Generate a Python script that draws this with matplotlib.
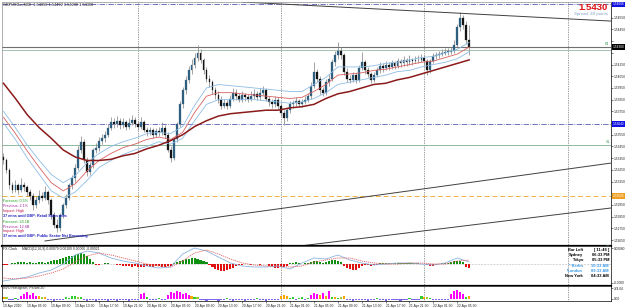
import numpy as np
import matplotlib
matplotlib.use("Agg")
import matplotlib.pyplot as plt
import matplotlib.transforms as mtransforms

W, H = 625, 308
plt.rcParams["font.family"] = ["Liberation Sans", "DejaVu Sans"]

# ── Data: GBPUSD M30 bars, prices in pips above 1.5000 ────────────────────
opens = [336, 333, 325, 312, 308, 312, 308, 312, 310, 306,
         303, 295, 299, 303, 301, 306, 299, 286, 278, 275,
         286, 295, 301, 312, 318, 327, 342, 349, 333, 323,
         329, 342, 344, 350, 352, 355, 361, 366, 364, 367,
         363, 366, 362, 365, 368, 364, 362, 366, 359, 357,
         359, 355, 358, 357, 361, 355, 342, 335, 351, 364,
         381, 393, 402, 410, 415, 421, 425, 419, 410, 403,
         400, 393, 389, 385, 380, 382, 380, 386, 391, 388,
         385, 389, 387, 386, 388, 390, 387, 391, 393, 386,
         383, 381, 385, 380, 374, 369, 376, 381, 382, 384,
         381, 383, 385, 388, 397, 409, 403, 393, 391, 400,
         403, 417, 423, 427, 423, 409, 403, 402, 406, 402,
         412, 417, 410, 407, 402, 406, 410, 414, 412, 415,
         413, 416, 414, 418, 416, 419, 417, 419, 418, 419,
         419, 421, 418, 410, 418, 422, 423, 424, 425, 426,
         426, 427, 432, 447, 455, 449, 436]
highs = [339, 335, 327, 315, 316, 314, 318, 315, 312, 309,
         305, 303, 308, 306, 311, 308, 301, 289, 283, 288,
         297, 304, 314, 321, 330, 345, 354, 351, 336, 332,
         344, 348, 353, 356, 358, 364, 370, 369, 371, 369,
         369, 368, 369, 372, 370, 367, 370, 368, 362, 362,
         361, 361, 362, 366, 363, 357, 345, 353, 366, 384,
         396, 405, 414, 420, 425, 432, 428, 421, 413, 406,
         402, 396, 392, 388, 386, 385, 389, 395, 394, 391,
         392, 391, 390, 392, 394, 392, 395, 397, 395, 388,
         386, 388, 387, 382, 376, 378, 384, 385, 387, 386,
         386, 388, 391, 400, 417, 411, 405, 396, 403, 407,
         420, 427, 434, 430, 425, 412, 406, 409, 408, 415,
         426, 419, 413, 409, 409, 413, 417, 416, 418, 417,
         419, 418, 421, 420, 422, 421, 423, 421, 422, 423,
         424, 423, 420, 420, 425, 426, 427, 428, 429, 429,
         430, 436, 450, 460, 457, 452, 449]
lows = [330, 322, 309, 305, 306, 304, 306, 307, 303, 299,
        291, 292, 297, 298, 299, 296, 283, 275, 272, 273,
        284, 292, 299, 309, 315, 325, 339, 331, 320, 321,
        327, 339, 341, 347, 349, 353, 359, 361, 362, 360,
        361, 359, 360, 363, 362, 359, 360, 357, 354, 355,
        352, 353, 354, 355, 352, 340, 332, 333, 349, 362,
        378, 390, 399, 407, 412, 418, 416, 407, 400, 396,
        390, 386, 382, 377, 378, 377, 378, 384, 385, 383,
        383, 384, 383, 384, 386, 385, 385, 389, 384, 380,
        378, 379, 377, 371, 363, 367, 374, 378, 380, 379,
        379, 381, 383, 386, 395, 400, 390, 388, 389, 397,
        401, 414, 420, 420, 406, 400, 399, 400, 399, 400,
        410, 407, 404, 399, 400, 404, 408, 409, 410, 410,
        411, 411, 412, 413, 414, 414, 415, 415, 416, 416,
        417, 415, 406, 408, 416, 420, 421, 422, 423, 423,
        424, 425, 430, 444, 445, 433, 423]
closes = [333, 325, 312, 308, 312, 308, 312, 310, 306, 303,
          295, 299, 303, 301, 306, 299, 286, 278, 275, 286,
          295, 301, 312, 318, 327, 342, 349, 333, 323, 329,
          342, 344, 350, 352, 355, 361, 366, 364, 367, 363,
          366, 362, 365, 368, 364, 362, 366, 359, 357, 359,
          355, 358, 357, 361, 355, 342, 335, 351, 364, 381,
          393, 402, 410, 415, 421, 425, 419, 410, 403, 400,
          393, 389, 385, 380, 382, 380, 386, 391, 388, 385,
          389, 387, 386, 388, 390, 387, 391, 393, 386, 383,
          381, 385, 380, 374, 369, 376, 381, 382, 384, 381,
          383, 385, 388, 397, 409, 403, 393, 391, 400, 403,
          417, 423, 427, 423, 409, 403, 402, 406, 402, 412,
          417, 410, 407, 402, 406, 410, 414, 412, 415, 413,
          416, 414, 418, 416, 419, 417, 419, 418, 419, 419,
          421, 418, 410, 418, 422, 423, 424, 425, 426, 426,
          427, 432, 447, 455, 449, 436, 430]

# moving averages read every 4th bar
ma_idx = list(range(0, 157, 4))
ma_slow = [399, 386, 372, 361, 352, 342, 336, 333, 333, 334,
           337, 339, 343, 346, 350, 355, 362, 367, 371, 373,
           374, 375, 376, 376, 378, 379, 381, 386, 390, 392,
           395, 398, 399, 402, 404, 407, 410, 413, 416, 419]
ma_up = [375, 361, 346, 333, 321, 314, 320, 331, 339, 345,
         349, 352, 356, 357, 356, 362, 380, 395, 398, 397,
         396, 395, 394, 393, 392, 392, 398, 404, 413, 413,
         413, 414, 416, 417, 419, 421, 422, 425, 428, 434]
ma_mid = [370, 356, 341, 327, 314, 307, 313, 324, 333, 339,
          344, 347, 351, 353, 351, 357, 374, 388, 391, 391,
          390, 389, 388, 387, 386, 387, 392, 398, 406, 407,
          408, 410, 411, 413, 415, 417, 418, 421, 424, 430]
ma_lo = [365, 351, 335, 321, 307, 301, 306, 316, 327, 333,
         338, 342, 345, 349, 347, 352, 367, 381, 385, 385,
         385, 385, 384, 383, 382, 383, 386, 391, 398, 400,
         402, 404, 406, 409, 410, 413, 415, 417, 420, 426]

# MACD (units of 0.00001)
macd_main = [-85, -75, -65, -45, -30, 0, 45, 65, 55, 30,
             15, 5, -10, -20, -15, 50, 80, 65, 35, 5,
             -10, -15, -15, -10, -25, 5, 30, 25, 45, 20,
             5, -5, 0, 5, 5, 0, -5, 5, 30, 10]
macd_signal = [-70, -75, -70, -60, -45, -25, 10, 40, 55, 45,
               30, 15, 0, -10, -15, 15, 55, 70, 50, 25,
               5, -5, -10, -10, -15, -10, 10, 20, 30, 30,
               15, 5, 0, 0, 5, 5, 0, 0, 15, 20]
macd_hist = [-5, -5, 0, 5,
             5, 10, 10, 10, 5, 10,
             5, 5, 10, 10, 5, 10,
             15, 20, 20, 25, 30, 35, 40, 40, 45, 50, 55, 50, 40,
             25, 10, -5,
             -5, 0, 5, 5, 0, 0, -5,
             -5, -10, -10, -10, -15, -10, -15, -15, -15, -10, -15, -15, -10, -10, -15, -15, -10, -10,
             5, 10, 15, 20, 25, 25, 30, 30, 25, 20, 15, 10,
             -5, -15, -25, -30, -35, -35, -30, -25, -20, -10,
             -5, -5, 0, 0, -5, 0, 0, -5, 0, 0,
             -10, -15, -20, -20, -15, -15, -10,
             5, 5, 10, 5, 0, 5, 5, 10,
             15, 15, 10, 5, 10,
             15, 20, 20, 15, 10,
             -10, -20, -25, -30, -30, -20, -10,
             -5, -5, -10, -5, -5,
             5, 5, 5, 5, 5, 5, 5, 5, 5, 5, 5, 5, 5, 5, 0, 0, -5,
             -10, -10, -5,
             0, 5, 5, 5, 10,
             15, 15, 15, 10,
             -15, -20]

# NVO histogram
nvo = [2, 2, -1, -1, 1, -1, 3, 5, 7, 4, 6, 3, 3, 2, 2,
       -1, -1, -2, -1, -1, -1, 2, 1, 3, 3, 2, 2,
       -1, -2, -1, -1, -2, -1, -1, -1, -2, -1, -1, -2, -1, -1, -1, -2, -1, -1, -1,
       5, 6, 2, -1, -1, -1, 1, -1, -1,
       4, 7, 6, 8, 7, 5, 6, 4, 3, 2, 2,
       -1, -1, -2, -1, -1, -1, -2, -1, -1, 1, -1, -2, -1, -1, -1, -2, -1, -1, -1, 1,
       -1, -1, -2, -1, -1, -1, -1,
       3, 4, 3, 1, 2, -1, 1, 2, -1, 1,
       4, 6, 5, 4, 6, 3, 8, 2, 2, 1, 2, 3,
       -1, -1, -2, -1, -1, -1, -1, -2, -1, -1, 1, -1, -1, -2, -1, -1, -1, -1, -2, -1, -1, 1, -1, -1, -1,
       3, 2, 2, 1, -1, -1, -1, -1, -1, -1,
       5, 8, 9, 7, 5, 2, 3]
nvo_kind = ("oys" "sgs" "mmmmmm" "oyo" "ssssss" "gg" "ggyg"
            "sssssssssssssssssss" "mmg" "sssgss" "mmmmmmmm" "ogy"
            "sssssssssgsssssssssgsssssss" "ooo" "ggsggsg" "mmmomo" "m"
            "gogyo" "ssssssssssgssssssssssgsss" "goyg" "ssssss" "mmmmm" "go")

time_idx = list(range(0, 153, 8))
time_labels = ["19 Apr 2010", "19 Apr 05:30", "19 Apr 09:30", "19 Apr 13:30",
               "19 Apr 17:30", "19 Apr 21:30", "20 Apr 01:30", "20 Apr 05:30",
               "20 Apr 09:30", "20 Apr 13:30", "20 Apr 17:30", "20 Apr 21:30",
               "21 Apr 01:30", "21 Apr 05:30", "21 Apr 09:30", "21 Apr 13:30",
               "21 Apr 17:30", "21 Apr 21:30", "22 Apr 01:30", "22 Apr 05:30"]
day_breaks = [45, 93, 141, 189]

price_ticks = [265 + 10 * k for k in range(21)]
hlevels = {"top": 466.6, "bid": 430.0, "r1": 427.5, "mid": 364.2, "s1": 346.2, "orange": 302.6}

# trend lines: (bar index, pips)
trend_down = ([80, 203.5], [468.5, 452.2])
trend_up1 = ([13.9, 203.5], [264.2, 330.8])
trend_up2 = ([99.3, 203.5], [259.9, 292.4])

assert len(opens) == len(highs) == len(lows) == len(closes) == 157
assert len(macd_hist) == 157 and len(nvo) == 157 and len(nvo_kind) == 157


def p(v):
    return 1.5 + np.asarray(v, dtype=float) / 1e4


# ── Figure ────────────────────────────────────────────────────────────────
fig = plt.figure(figsize=(W / 100, H / 100), dpi=100)
fig.patch.set_facecolor("white")


def box(top, bottom, left=2, right=611):
    return [left / W, 1 - bottom / H, (right - left) / W, (bottom - top) / H]


def ftxt(x, y, s, **kw):
    fig.text(x / W, 1 - y / H, s, **kw)


ax = fig.add_axes(box(2, 246))
ax_m = fig.add_axes(box(246, 286), sharex=ax)
ax_v = fig.add_axes(box(286, 301), sharex=ax)

XL = (-0.5, 203.5)
idx = np.arange(157)
LAB = 2.3

for a in (ax, ax_m, ax_v):
    a.set_facecolor("white")
    for s in a.spines.values():
        s.set_color("#000000")
        s.set_linewidth(0.5)
    a.yaxis.tick_right()
    a.tick_params(axis="y", length=1.5, width=0.4, pad=0.6, labelsize=LAB,
                  colors="#222222")
    for d in day_breaks:
        a.axvline(d, color="#404040", lw=0.5, ls=(0, (1, 1.5)), zorder=1)
ax.spines["top"].set_color("#909090")
ax.spines["left"].set_color("#909090")
ax.spines["bottom"].set_linewidth(1.6)
ax_m.spines["bottom"].set_linewidth(1.6)
ax.tick_params(axis="x", bottom=False, labelbottom=False)
ax_m.tick_params(axis="x", bottom=False, labelbottom=False)

# ── Main panel ────────────────────────────────────────────────────────────
o, h, l, c = p(opens), p(highs), p(lows), p(closes)
up = c >= o
ax.vlines(idx, l, h, color="#8a8a8a", lw=0.55, zorder=2)
body = np.maximum(np.abs(c - o), 0.00002)
ax.bar(idx[up], body[up], bottom=np.minimum(o, c)[up], width=0.62,
       color="#2f5f7f", edgecolor="#2f5f7f", lw=0.2, zorder=3)
ax.bar(idx[~up], body[~up], bottom=np.minimum(o, c)[~up], width=0.62,
       color="#151515", edgecolor="#151515", lw=0.2, zorder=3)

ax.plot(ma_idx, p(ma_up), color="#8dbde6", lw=0.6, zorder=4)
ax.plot(ma_idx, p(ma_mid), color="#d86060", lw=0.6, zorder=4)
ax.plot(ma_idx, p(ma_lo), color="#8dbde6", lw=0.6, zorder=4)
ax.plot(ma_idx, p(ma_slow), color="#8b1a1a", lw=1.1, zorder=4)

ax.axhline(p(hlevels["top"]), color="#5a5ab0", lw=0.6, ls="-.", zorder=1)
ax.axhline(p(hlevels["mid"]), color="#5a5ab0", lw=0.6, ls="-.", zorder=1)
ax.axhline(p(hlevels["bid"]), color="#707070", lw=0.8, zorder=1)
ax.axhline(p(hlevels["r1"]), color="#9ab8a4", lw=0.6, zorder=1)
ax.axhline(p(hlevels["s1"]), color="#7cb08c", lw=0.6, zorder=1)
ax.axhline(p(hlevels["orange"]), color="#f0b040", lw=0.7, ls=(0, (5, 3)), zorder=1)

for xs, ys in (trend_down, trend_up1, trend_up2):
    ax.plot(xs, p(ys), color="#404040", lw=0.7, zorder=2)

ax.set_xlim(*XL)
ax.set_ylim(p(259.9), p(468.5))

# price scale: labels hidden where a coloured level box sits on top
boxed = [hlevels["top"], hlevels["bid"], hlevels["mid"], hlevels["orange"]]
ax.set_yticks(p(price_ticks))
ax.set_yticklabels([("" if min(abs(t - b) for b in boxed) < 7 else f"{v:.5f}")
                    for t, v in zip(price_ticks, p(price_ticks))])

tr = mtransforms.blended_transform_factory(ax.transAxes, ax.transData)
for lvl, fc in ((hlevels["top"], "#1010e0"), (hlevels["bid"], "#000000"),
                (hlevels["mid"], "#1010e0"), (hlevels["orange"], "#f0a020")):
    ax.text(1.0035, p(lvl), f"{p(lvl):.5f}", transform=tr, fontsize=LAB,
            color="white", ha="left", va="center", clip_on=False, zorder=6,
            bbox=dict(fc=fc, ec="none", pad=0.5))
for lvl, name in ((hlevels["bid"], "R1"), (hlevels["s1"], "S1"), (257.0, "S2")):
    ax.text(0.998, p(lvl) + 0.00005, name, transform=tr, fontsize=2.6,
            color="#3a9a5a", ha="right", va="bottom")

ftxt(3, 3, "GBPUSDm,M30  1.54358 1.54492 1.54230 1.54300", fontsize=2.8,
     color="#202020", va="top")
ftxt(608, 7, "1.5430", fontsize=6.8, color="#e01010", fontweight="bold",
     ha="right", va="center")
ftxt(608, 14, "Spread: 40 points", fontsize=3.2, color="#8aa4c4",
     ha="right", va="center")

news = [("Forecast: 0.5%", "#20a020"), ("Previous: 2.1%", "#a020a0"),
        ("Impact: High", "#c01050"), ("37 mins until GBP: Retail Sales m/m", "#2020c0"),
        ("Forecast: 24.1B", "#20a020"), ("Previous: 12.6B", "#a020a0"),
        ("Impact: High", "#c01050"),
        ("37 mins until GBP: Public Sector Net Borrowing", "#2020c0")]
news_y = [200.7, 206, 211, 215.7, 222, 227, 231, 235.7]
for (s, col), yy in zip(news, news_y):
    ftxt(3, yy, s, fontsize=2.7, color=col, va="center",
         fontweight="bold" if "until" in s else "normal")

# ── MACD panel ────────────────────────────────────────────────────────────
hist = np.array(macd_hist)
ax_m.bar(idx, hist, width=0.7, color=np.where(hist >= 0, "#109010", "#e01010"),
         zorder=2)
ax_m.axhline(0, color="#808080", lw=0.4, ls=":", zorder=1)
ax_m.plot(ma_idx, macd_main, color="#8db4e0", lw=0.6, zorder=3)
ax_m.plot(ma_idx, macd_signal, color="#e06060", lw=0.6, ls=(0, (1.5, 1)), zorder=3)
ax_m.set_ylim(-110, 90)
ax_m.set_yticks([80, -95])
ax_m.set_yticklabels(["0.00080", "-0.0009"])

ftxt(3, 249, "FX Clock", fontsize=2.5, color="#202020", va="center")
ftxt(22, 249, "MACD(12,26,9) 0.00079 0.00100 0.00000 -0.00021", fontsize=2.4,
     color="#202020", va="center")

clock = [("Bar Left", "[ 11:48 ]", "#000000"), ("Sydney", "06:33 PM", "#000000"),
         ("Tokyo", "05:33 PM", "#000000"), ("* Berlin", "10:33 AM", "#3a9ae8"),
         ("*London", "09:33 AM", "#3a9ae8"), ("New York", "04:33 AM", "#000000")]
for k, (city, tm, col) in enumerate(clock):
    yy = 250 + 5.2 * k
    ftxt(583, yy, city, fontsize=2.9, color=col, fontweight="bold",
         ha="right", va="center")
    ftxt(609, yy, tm, fontsize=2.9, color=col, fontweight="bold",
         ha="right", va="center")

# ── NVO histogram panel ───────────────────────────────────────────────────
kind_col = {"m": "#ff00ff", "s": "#7b68ee", "g": "#32cd32", "o": "#ffa500",
            "y": "#9acd32"}
ax_v.bar(idx, nvo, width=0.72, color=[kind_col[k] for k in nvo_kind], zorder=2)
ax_v.set_ylim(-2.5, 12.5)
ax_v.set_yticks([10.5, 0])
ax_v.set_yticklabels(["274.04", "0.00"])
ftxt(3, 288.5, "NVO Histogram, Period 20", fontsize=2.5, color="#202020",
     va="center")

ax_v.set_xticks(time_idx)
ax_v.set_xticklabels(time_labels)
ax_v.tick_params(axis="x", length=1.5, width=0.4, pad=0.8, labelsize=2.4,
                 colors="#222222")
plt.setp(ax_v.get_xticklabels(), ha="left")

fig.savefig("out.png", dpi=100, facecolor="white")
